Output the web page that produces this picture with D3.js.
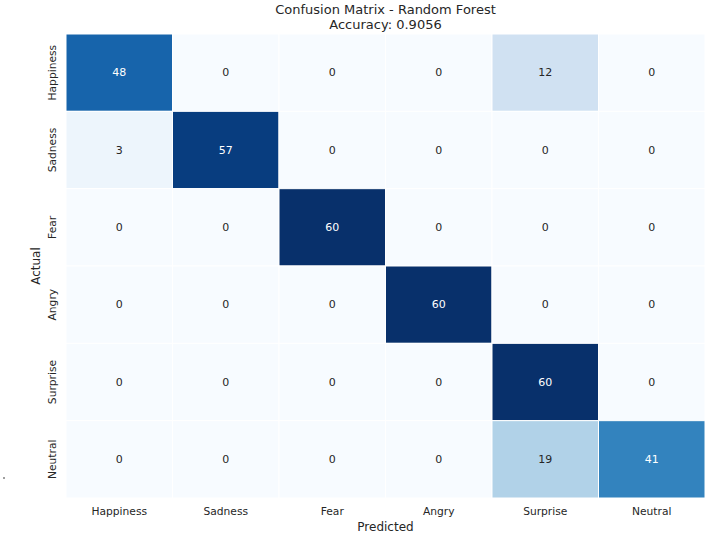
<!DOCTYPE html>
<html>
<head>
<meta charset="utf-8">
<script src="https://cdn.jsdelivr.net/npm/d3@7"></script>
<style>
    body { margin: 0; background: #fff; }
    text { font-family: "DejaVu Sans", sans-serif; }
</style>
</head>
<body>
<svg id="chart" width="708" height="536"></svg>
<script>
const labels = ["Happiness", "Sadness", "Fear", "Angry", "Surprise", "Neutral"];
const rowHappiness = [48, 0, 0, 0, 12, 0];
const rowSadness = [3, 57, 0, 0, 0, 0];
const rowFear = [0, 0, 60, 0, 0, 0];
const rowAngry = [0, 0, 0, 60, 0, 0];
const rowSurprise = [0, 0, 0, 0, 60, 0];
const rowNeutral = [0, 0, 0, 0, 19, 41];
const matrix = [rowHappiness, rowSadness, rowFear, rowAngry, rowSurprise, rowNeutral];
const accuracy = "0.9056";

const svg = d3.select("#chart");
const plotLeft = 66, plotRight = 705, plotTop = 34, plotBottom = 498;

const x = d3.scaleBand().domain(labels).range([plotLeft, plotRight]);
const y = d3.scaleBand().domain(labels).range([plotTop, plotBottom]);

// matplotlib Blues
const blues = ["#f7fbff","#deebf7","#c6dbef","#9ecae1","#6baed6","#4292c6","#2171b5","#08519c","#08306b"];
const vmax = d3.max(matrix.flat());
const color = d3.scaleLinear()
    .domain(blues.map((d, i) => i * vmax / (blues.length - 1)))
    .range(blues);

const cells = [];
matrix.forEach((row, i) => row.forEach((v, j) => cells.push({ actual: labels[i], pred: labels[j], v })));

svg.selectAll("rect.cell")
    .data(cells)
    .enter()
    .append("rect")
    .attr("class", "cell")
    .attr("x", d => x(d.pred))
    .attr("y", d => y(d.actual))
    .attr("width", x.bandwidth())
    .attr("height", y.bandwidth())
    .attr("fill", d => color(d.v))
    .attr("stroke", "#fff")
    .attr("stroke-width", 1);

// seaborn-style: dark text on light cells, white on dark
function textColor(v) {
    const c = d3.rgb(color(v));
    const lum = [c.r, c.g, c.b].map(u => {
        u /= 255;
        return u <= 0.03928 ? u / 12.92 : Math.pow((u + 0.055) / 1.055, 2.4);
    });
    const l = 0.2126 * lum[0] + 0.7152 * lum[1] + 0.0722 * lum[2];
    return l > 0.408 ? "#262626" : "#ffffff";
}

svg.selectAll("text.val")
    .data(cells)
    .enter()
    .append("text")
    .attr("class", "val")
    .attr("x", d => x(d.pred) + x.bandwidth() / 2)
    .attr("y", d => y(d.actual) + y.bandwidth() / 2)
    .attr("text-anchor", "middle")
    .attr("dominant-baseline", "central")
    .attr("font-size", 11)
    .attr("fill", d => textColor(d.v))
    .text(d => d.v);

// x tick labels
svg.selectAll("text.xtick")
    .data(labels)
    .enter()
    .append("text")
    .attr("class", "xtick")
    .attr("x", d => x(d) + x.bandwidth() / 2)
    .attr("y", plotBottom + 17)
    .attr("text-anchor", "middle")
    .attr("font-size", 10.7)
    .attr("fill", "#262626")
    .text(d => d);

// y tick labels
svg.selectAll("text.ytick")
    .data(labels)
    .enter()
    .append("text")
    .attr("class", "ytick")
    .attr("transform", d => `translate(${plotLeft - 10},${y(d) + y.bandwidth() / 2}) rotate(-90)`)
    .attr("text-anchor", "middle")
    .attr("font-size", 10.7)
    .attr("fill", "#262626")
    .text(d => d);

svg.append("text")
    .attr("x", (plotLeft + plotRight) / 2)
    .attr("y", 531)
    .attr("text-anchor", "middle")
    .attr("font-size", 12)
    .attr("fill", "#262626")
    .text("Predicted");

svg.append("text")
    .attr("transform", `translate(40,${(plotTop + plotBottom) / 2}) rotate(-90)`)
    .attr("text-anchor", "middle")
    .attr("font-size", 12)
    .attr("fill", "#262626")
    .text("Actual");

svg.append("text")
    .attr("x", (plotLeft + plotRight) / 2)
    .attr("y", 14)
    .attr("text-anchor", "middle")
    .attr("font-size", 13)
    .attr("fill", "#262626")
    .text("Confusion Matrix - Random Forest");

svg.append("text")
    .attr("x", (plotLeft + plotRight) / 2)
    .attr("y", 29)
    .attr("text-anchor", "middle")
    .attr("font-size", 13)
    .attr("fill", "#262626")
    .text(`Accuracy: ${accuracy}`);

// stray dot at left edge
svg.append("circle")
    .attr("cx", 4)
    .attr("cy", 478)
    .attr("r", 0.8)
    .attr("fill", "#262626");
</script>
</body>
</html>
